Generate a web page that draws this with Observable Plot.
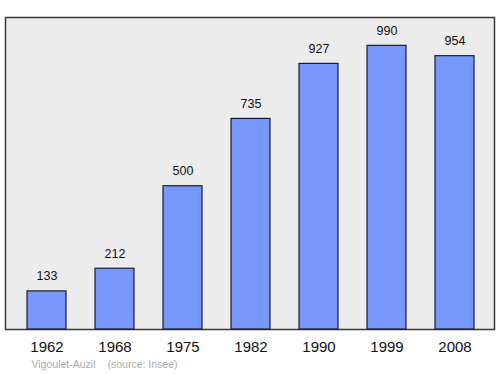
<!DOCTYPE html>
<html>
<head>
<meta charset="utf-8">
<script src="https://cdn.jsdelivr.net/npm/d3@7"></script>
<script src="https://cdn.jsdelivr.net/npm/@observablehq/plot@0.6"></script>
<style>
  html, body { margin: 0; padding: 0; background: #fff; }
  svg { display: block; }
</style>
</head>
<body>
<div id="chart"></div>
<script>
const years = ["1962", "1968", "1975", "1982", "1990", "1999", "2008"];
const population = [133, 212, 500, 735, 927, 990, 954];
const captionName = "Vigoulet-Auzil";
const captionSource = "(source: Insee)";

const data = years.map((y, i) => ({year: y, pop: population[i]}));

const chart = Plot.plot({
  width: 500,
  height: 374,
  marginLeft: 5,
  marginRight: 3,
  marginTop: 17,
  marginBottom: 45,
  style: {fontFamily: "'Liberation Sans', Arial, sans-serif", background: "#fff", color: "#111"},
  x: {domain: years, paddingInner: 0.42, paddingOuter: 0.31, label: null},
  y: {domain: [0, 1089], axis: null},
  marks: [
    Plot.frame({fill: "#ececec", stroke: "#3a3a3a", strokeWidth: 1.5, insetRight: 3}),
    Plot.barY(data, {x: "year", y: "pop", fill: "#7799ff", stroke: "#1a1a2e", strokeWidth: 1.2}),
    Plot.text(data, {x: "year", y: "pop", text: d => String(d.pop), dy: -15, fontSize: 12.5, fill: "#111"}),
    Plot.axisX({tickSize: 0, tickPadding: 12, fontSize: 15, label: null}),
    Plot.text([captionName], {frameAnchor: "bottom-left", dx: 26, dy: 38, fontSize: 10.5, fill: "#aaa", textAnchor: "start"}),
    Plot.text([captionSource], {frameAnchor: "bottom-left", dx: 102, dy: 38, fontSize: 10.5, fill: "#aaa", textAnchor: "start"})
  ]
});
document.getElementById("chart").appendChild(chart);
</script>
</body>
</html>
